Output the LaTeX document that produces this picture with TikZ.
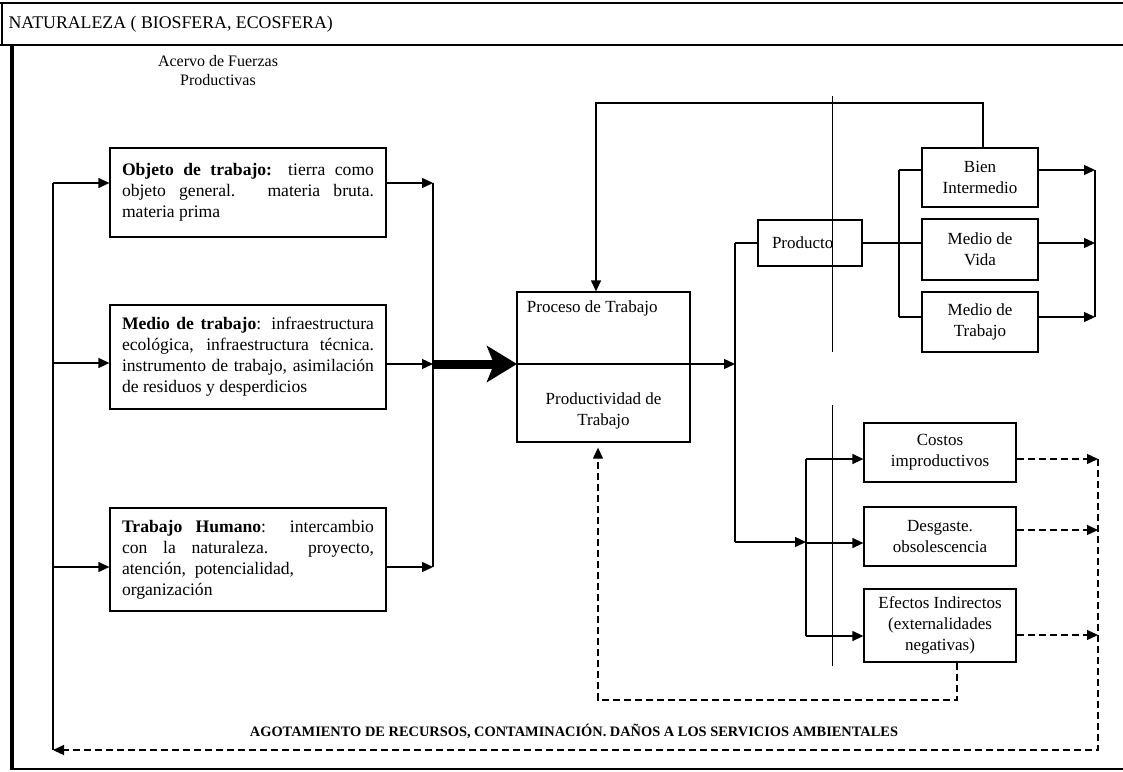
\documentclass[tikz,border=0pt]{standalone}
\usepackage{fontspec}
\setmainfont{Liberation Serif}
\usetikzlibrary{calc}
\usetikzlibrary{positioning}
\usetikzlibrary{arrows.meta}
\tikzstyle{fuerza} = [draw, rectangle, line width=1.3pt, minimum width=276pt, inner xsep=12pt, text width=252pt, align=justify, font=\fontsize{17.6}{21}\selectfont]
\tikzstyle{salida} = [draw, rectangle, line width=1.3pt, minimum width=116pt, align=center, font=\fontsize{17}{21}\selectfont]
\tikzstyle{efecto} = [draw, rectangle, line width=1.3pt, minimum width=152pt, align=center, font=\fontsize{17}{21}\selectfont]
\tikzstyle{texto} = [align=center, font=\fontsize{17}{21}\selectfont]
\tikzstyle{flecha} = [-{Triangle[length=11pt,width=10pt]}, line width=1.3pt]
\tikzstyle{retro} = [dash pattern=on 7pt off 4pt, line width=1.2pt]
\tikzstyle{guia} = [line width=0.9pt]

\begin{document}
\begin{tikzpicture}[x=1pt, y=-1pt]
  \useasboundingbox (0,0) rectangle (1123,771);

  \draw[line width=1.3pt] (0,3) -- (1123,3);
  \draw[line width=1.3pt] (0,45) -- (1123,45);
  \draw[line width=1.3pt] (2,3) -- (2,45);
  \draw[line width=3.5pt] (12,45) -- (12,769);
  \draw[line width=1.6pt] (10,769) -- (1123,769);
  \node[anchor=west, font=\fontsize{17.8}{21}\selectfont] (natur) at (5,24) {NATURALEZA ( BIOSFERA, ECOSFERA)};

  \node[texto, font=\fontsize{16}{19}\selectfont] (acervo) at (218,71) {Acervo de Fuerzas\\Productivas};

  \node[fuerza, minimum height=89pt] (obj) at (248,192.5) {\textbf{Objeto de trabajo:} tierra como\linebreak objeto general. materia bruta.\linebreak materia prima};
  \node[fuerza, minimum height=104pt] (med) at (248,357) {\textbf{Medio de trabajo}: infraestructura\linebreak ecológica, infraestructura técnica.\linebreak instrumento de trabajo, asimilación\linebreak de residuos y desperdicios};
  \node[fuerza, minimum height=103pt] (hum) at (248,559.5) {\textbf{Trabajo Humano}: intercambio\linebreak con la naturaleza. proyecto,\linebreak atención,\ \ potencialidad,\\ organización};

  \node[draw, rectangle, line width=1.3pt, minimum width=173pt, minimum height=150pt] (proc) at (603.5,367) {};
  \node[texto, anchor=north west] (ptit) at ([xshift=7pt,yshift=-6pt]proc.north west) {Proceso de Trabajo};
  \node[texto] (pprod) at (603.5,411) {Productividad de\\Trabajo};

  \node[draw, rectangle, line width=1.3pt, minimum width=104pt, minimum height=46pt, inner xsep=14pt, text width=76pt, align=left, font=\fontsize{17}{21}\selectfont] (prod) at (810,243) {Producto};

  \node[salida, minimum height=59pt] (bien) at (980,177.5) {Bien\\Intermedio};
  \node[salida, minimum height=61pt] (vida) at (980,249.5) {Medio de\\Vida};
  \node[salida, minimum height=60pt] (mtrab) at (980,322) {Medio de\\Trabajo};

  \node[efecto, minimum height=59pt] (costos) at (940,452.5) {Costos\\improductivos};
  \node[efecto, minimum height=59pt] (desg) at (940,536.5) {Desgaste.\\obsolescencia};
  \node[efecto, minimum height=73pt] (efind) at (940,625.5) {Efectos Indirectos\\(externalidades\\negativas)};

  \node[font=\fontsize{14.4}{17}\selectfont\bfseries] (agot) at (574,731) {AGOTAMIENTO DE RECURSOS, CONTAMINACIÓN. DAÑOS A LOS SERVICIOS AMBIENTALES};

  \coordinate (e1) at (53,183);
  \coordinate (e2) at (53,363);
  \coordinate (e3) at (53,567);
  \coordinate (e4) at (53,750);
  \coordinate (s1) at (433,183);
  \coordinate (s2) at (433,364);
  \coordinate (s3) at (433,567);
  \coordinate (pl) at (517,364);
  \coordinate (pr) at (735,364);
  \coordinate (ptop) at (735,243);
  \coordinate (pbot) at (735,542);
  \coordinate (r1) at (899,170);
  \coordinate (r2) at (899,243);
  \coordinate (r3) at (899,317);
  \coordinate (t1) at (1095,170);
  \coordinate (t2) at (1095,243);
  \coordinate (t3) at (1095,317);
  \coordinate (ret) at (983,103);
  \coordinate (retL) at (596,103);
  \coordinate (c0) at (806,542);
  \coordinate (c1) at (806,459);
  \coordinate (c2) at (806,543);
  \coordinate (c3) at (806,636);
  \coordinate (d1) at (1098,459);
  \coordinate (d2) at (1098,530);
  \coordinate (d3) at (1098,635);
  \coordinate (d4) at (1098,750);
  \coordinate (f1) at (957,700);
  \coordinate (f2) at (598,700);

  \draw[line width=1.3pt] (e1) -- (e4);
  \draw[flecha] (e1) -- (e1 -| obj.west);
  \draw[flecha] (e2) -- (e2 -| med.west);
  \draw[flecha] (e3) -- (e3 -| hum.west);
  \draw[flecha] (s1 -| obj.east) -- (s1);
  \draw[flecha] (s2 -| med.east) -- (s2);
  \draw[flecha] (s3 -| hum.east) -- (s3);
  \draw[line width=1.3pt] (s1) -- (s3);
  \draw[line width=9pt, -{Stealth[length=30pt,width=36pt,inset=7pt]}] (s2) -- (pl);

  \draw[flecha] (pl) -- (pr);
  \draw[line width=1.3pt] (ptop) -- (pbot);
  \draw[line width=1.3pt] (ptop) -- (prod.west);
  \draw[line width=1.3pt] (prod.east) -- (r2) -- (r2 -| vida.west);
  \draw[line width=1.3pt] (r1) -- (r3);
  \draw[line width=1.3pt] (r1) -- (r1 -| bien.west);
  \draw[line width=1.3pt] (r3) -- (r3 -| mtrab.west);
  \draw[flecha] (t1 -| bien.east) -- (t1);
  \draw[flecha] (t2 -| vida.east) -- (t2);
  \draw[flecha] (t3 -| mtrab.east) -- (t3);
  \draw[line width=1.3pt] (t1) -- (t3);
  \draw[flecha] (ret |- bien.north) -- (ret) -- (retL) -- (retL |- proc.north);

  \draw[guia] (832,96) -- (832,352);
  \draw[guia] (832,405) -- (832,666);

  \draw[flecha] (pbot) -- (c0);
  \draw[line width=1.3pt] (c1) -- (c3);
  \draw[flecha] (c1) -- (c1 -| costos.west);
  \draw[flecha] (c2) -- (c2 -| desg.west);
  \draw[flecha] (c3) -- (c3 -| efind.west);

  \draw[retro, -{Triangle[length=11pt,width=10pt]}] (d1 -| costos.east) -- (d1);
  \draw[retro, -{Triangle[length=11pt,width=10pt]}] (d2 -| desg.east) -- (d2);
  \draw[retro, -{Triangle[length=11pt,width=10pt]}] (d3 -| efind.east) -- (d3);
  \draw[retro, -{Triangle[length=11pt,width=10pt]}] (d1) -- (d4) -- (e4);
  \draw[retro, -{Triangle[length=11pt,width=10pt]}] (f1 |- efind.south) -- (f1) -- (f2) -- ([yshift=-5pt]f2 |- proc.south);
\end{tikzpicture}
\end{document}
